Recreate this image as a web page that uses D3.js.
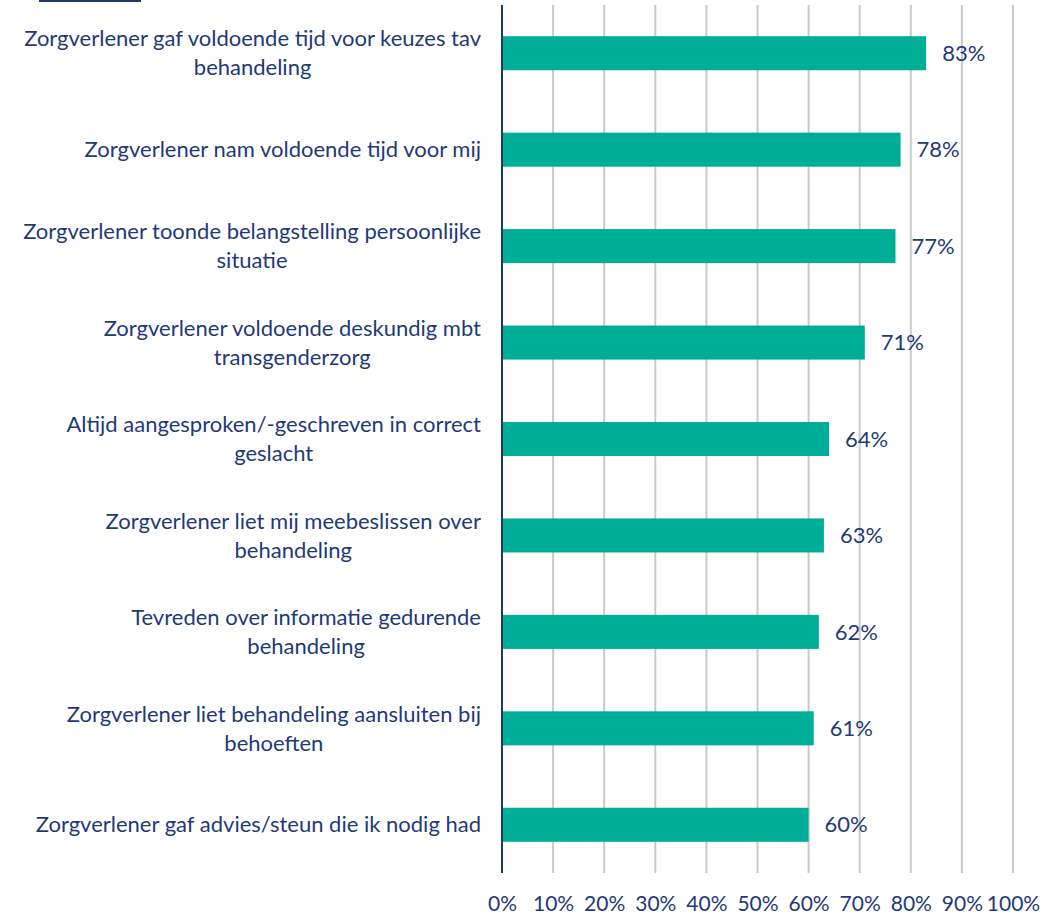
<!DOCTYPE html>
<html><head><meta charset="utf-8">
<script src="https://cdn.jsdelivr.net/npm/d3@7"></script>
<style>body{margin:0;background:#fff;} svg{display:block;}</style>
</head><body>
<svg id="chart" width="1043" height="916"></svg>
<script>
const categories = [
  "Zorgverlener gaf voldoende tijd voor keuzes tav|behandeling",
  "Zorgverlener nam voldoende tijd voor mij",
  "Zorgverlener toonde belangstelling persoonlijke|situatie",
  "Zorgverlener voldoende deskundig mbt|transgenderzorg",
  "Altijd aangesproken/-geschreven in correct|geslacht",
  "Zorgverlener liet mij meebeslissen over|behandeling",
  "Tevreden over informatie gedurende|behandeling",
  "Zorgverlener liet behandeling aansluiten bij|behoeften",
  "Zorgverlener gaf advies/steun die ik nodig had"
];
const values = [83, 78, 77, 71, 64, 63, 62, 61, 60];
const valueLabels = ["83%", "78%", "77%", "71%", "64%", "63%", "62%", "61%", "60%"];
const ticks = [0, 10, 20, 30, 40, 50, 60, 70, 80, 90, 100];

const navy = "#1F3A78";
const font = "Lato, 'Open Sans', sans-serif";
const svg = d3.select("#chart");
const x = d3.scaleLinear().domain([0, 100]).range([502, 1013]);
const y = d3.scaleBand().domain(d3.range(categories.length)).range([5, 873]).paddingInner(0.647).paddingOuter(0.3235);

// top-left mark
svg.append("line").attr("x1", 39).attr("x2", 141).attr("y1", 1).attr("y2", 1)
  .attr("stroke", "#203864").attr("stroke-width", 2);

// gridlines
svg.append("g").selectAll("line").data(ticks.slice(1)).join("line")
  .attr("x1", d => x(d)).attr("x2", d => x(d)).attr("y1", 5).attr("y2", 873)
  .attr("stroke", "#C9C9C9").attr("stroke-width", 2);

// bars
svg.append("g").selectAll("rect").data(values).join("rect")
  .attr("x", x(0)).attr("y", (d, i) => y(i))
  .attr("width", d => x(d) - x(0)).attr("height", y.bandwidth())
  .attr("fill", "#00AE98");

// axis line
svg.append("line").attr("x1", x(0)).attr("x2", x(0)).attr("y1", 5).attr("y2", 873)
  .attr("stroke", "#203864").attr("stroke-width", 2);

// value labels
svg.append("g").selectAll("text").data(values).join("text")
  .attr("x", d => x(d) + 16).attr("y", (d, i) => y(i) + y.bandwidth() / 2)
  .attr("dy", "0.35em").attr("fill", navy)
  .style("font-family", font).style("font-size", "22px")
  .text((d, i) => valueLabels[i]);

// x tick labels
const xAxis = d3.axisBottom(x).tickValues(ticks).tickFormat(d => d + "%").tickSize(0).tickPadding(0);
const gx = svg.append("g").attr("transform", "translate(0,911)").call(xAxis);
gx.select(".domain").remove();
gx.selectAll("text").attr("fill", navy).style("font-family", font).style("font-size", "21px").attr("y", 0).attr("dy", "0");

// category labels
const right = 481, lh = 29;
const cg = svg.append("g");
categories.forEach((c, i) => {
  const lines = c.split("|");
  const cy = y(i) + y.bandwidth() / 2;
  const g = cg.append("g");
  const texts = lines.map((l, j) => g.append("text")
    .attr("y", cy + (j - (lines.length - 1) / 2) * lh)
    .attr("dy", "0.35em").attr("fill", navy).attr("text-anchor", "middle")
    .style("font-family", font).style("font-size", "22px").text(l));
  const maxW = d3.max(texts, t => t.node().getComputedTextLength());
  texts.forEach(t => t.attr("x", right - maxW / 2));
});
</script>
</body></html>
